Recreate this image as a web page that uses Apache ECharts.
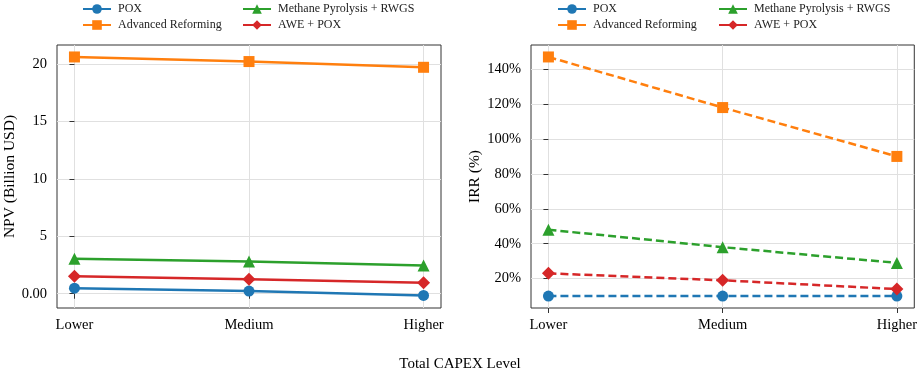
<!DOCTYPE html>
<html>
<head>
<meta charset="utf-8">
<script src="https://cdn.jsdelivr.net/npm/echarts@6/dist/echarts.min.js"></script>
<style>
  html, body { margin: 0; padding: 0; background: #fff; }
  #chart { width: 920px; height: 373px; }
</style>
</head>
<body>
<div id="chart"></div>
<script>
// data
const categories = ['Lower', 'Medium', 'Higher'];
const seriesNames = ['POX', 'Advanced Reforming', 'Methane Pyrolysis + RWGS', 'AWE + POX'];
const npvPox = [0.48, 0.23, -0.15];
const npvAdvanced = [20.6, 20.2, 19.7];
const npvMethane = [3.05, 2.8, 2.45];
const npvAwe = [1.52, 1.27, 0.95];
const irrPox = [10, 10, 10];
const irrAdvanced = [147, 118, 90];
const irrMethane = [48, 38, 29];
const irrAwe = [23, 19, 14];
const npvTicks = [0, 5, 10, 15, 20];
const irrTicks = [20, 40, 60, 80, 100, 120, 140];

const colors = ['#1f77b4', '#ff7f0e', '#2ca02c', '#d62728'];
const symbols = ['circle', 'rect', 'triangle', 'diamond'];
const symbolSizes = [11, 11, 12, 13];
const font = 'Liberation Serif';

const chart = echarts.init(document.getElementById('chart'));

const xAxisBase = (gridIndex) => ({
    type: 'value',
    gridIndex: gridIndex,
    min: -0.1,
    max: 2.1,
    axisLine: { show: false },
    axisTick: { show: true, inside: false, length: 5, customValues: [0, 1, 2], lineStyle: { color: '#333' } },
    axisLabel: {
        customValues: [0, 1, 2],
        formatter: (v) => categories[Math.round(v)],
        color: '#000', fontFamily: font, fontSize: 14.5, margin: 10
    },
    splitLine: { show: true, lineStyle: { color: '#e0e0e0', width: 1 } }
});

const makeSeries = (arrs, gi, dashed) => arrs.map((arr, i) => ({
    name: seriesNames[i],
    type: 'line',
    xAxisIndex: gi,
    yAxisIndex: gi,
    data: arr.map((v, k) => [k, v]),
    symbol: symbols[i],
    symbolSize: symbolSizes[i],
    showSymbol: true,
    z: 3,
    itemStyle: { color: colors[i] },
    lineStyle: { color: colors[i], width: 2.5, type: dashed ? [8, 4] : 'solid' },
    animation: false
}));

const legendBase = (left, data) => ({
    orient: 'vertical',
    left: left,
    top: 3,
    padding: 0,
    itemWidth: 28,
    itemHeight: 12,
    itemGap: 4,
    data: data,
    textStyle: { fontFamily: font, fontSize: 12, color: '#222', padding: [0, 0, 0, 2] }
});

const option = {
    backgroundColor: '#fff',
    animation: false,
    title: {
        text: 'Total CAPEX Level',
        left: 'center',
        top: 352,
        textStyle: { fontFamily: font, fontSize: 15, fontWeight: 'normal', color: '#000' }
    },
    legend: [
        legendBase(82, ['POX', 'Advanced Reforming']),
        legendBase(242, ['Methane Pyrolysis + RWGS', 'AWE + POX']),
        legendBase(557, ['POX', 'Advanced Reforming']),
        legendBase(718, ['Methane Pyrolysis + RWGS', 'AWE + POX'])
    ],
    grid: [
        { left: 57, top: 45, width: 384, height: 263, show: true, borderColor: '#333', borderWidth: 1, backgroundColor: 'transparent' },
        { left: 531, top: 45, width: 384, height: 263, show: true, borderColor: '#333', borderWidth: 1, backgroundColor: 'transparent' }
    ],
    xAxis: [xAxisBase(0), xAxisBase(1)],
    yAxis: [
        {
            type: 'value',
            gridIndex: 0,
            min: -1.24,
            max: 21.64,
            name: 'NPV (Billion USD)',
            nameLocation: 'middle',
            nameGap: 38,
            nameTextStyle: { fontFamily: font, fontSize: 15.5, color: '#000' },
            axisLine: { show: false },
            axisTick: { show: true, inside: false, length: 5, customValues: npvTicks, lineStyle: { color: '#333' } },
            axisLabel: {
                customValues: npvTicks,
                formatter: (v) => (v === 0 ? '0.00' : String(v)),
                color: '#000', fontFamily: font, fontSize: 14.5, margin: 10
            },
            splitLine: { show: true, lineStyle: { color: '#e0e0e0', width: 1 } }
        },
        {
            type: 'value',
            gridIndex: 1,
            min: 3.15,
            max: 153.85,
            name: 'IRR (%)',
            nameLocation: 'middle',
            nameGap: 48,
            nameTextStyle: { fontFamily: font, fontSize: 15.5, color: '#000' },
            axisLine: { show: false },
            axisTick: { show: true, inside: false, length: 5, customValues: irrTicks, lineStyle: { color: '#333' } },
            axisLabel: {
                customValues: irrTicks,
                formatter: (v) => v + '%',
                color: '#000', fontFamily: font, fontSize: 14.5, margin: 10
            },
            splitLine: { show: true, lineStyle: { color: '#e0e0e0', width: 1 } }
        }
    ],
    series: [
        ...makeSeries([npvPox, npvAdvanced, npvMethane, npvAwe], 0, false),
        ...makeSeries([irrPox, irrAdvanced, irrMethane, irrAwe], 1, true)
    ]
};

chart.setOption(option);
</script>
</body>
</html>
